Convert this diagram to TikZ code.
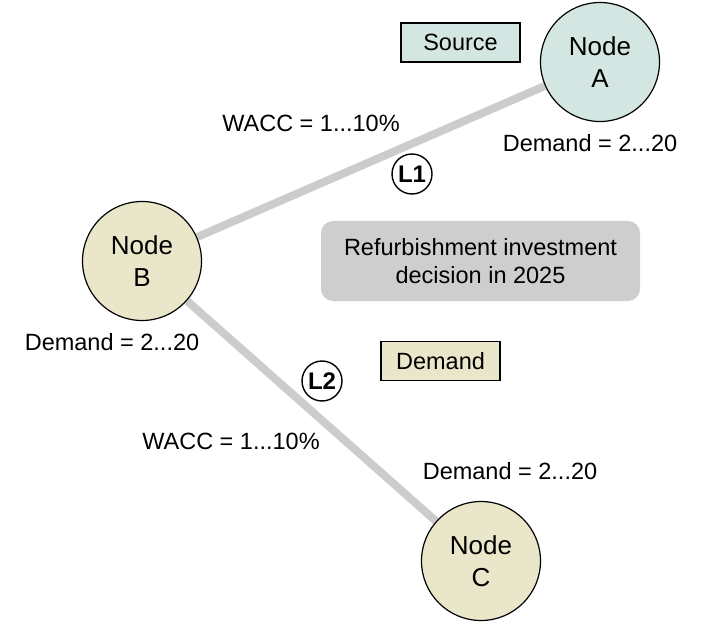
\documentclass[tikz,border=0pt]{standalone}
\usepackage{fontspec}
\setmainfont{Liberation Sans}
\usepackage{xcolor}
\usetikzlibrary{backgrounds}
\definecolor{srcfill}{RGB}{212,230,226}
\definecolor{dmdfill}{RGB}{234,230,201}
\definecolor{linkgray}{RGB}{204,204,204}
\definecolor{boxgray}{RGB}{206,206,206}
\tikzset{
    bus/.style={circle, draw, line width=1.2pt, minimum size=119pt, inner sep=0pt,
        align=center, font=\fontsize{26}{32}\selectfont},
    legendbox/.style={draw, line width=1.2pt, minimum width=119pt, minimum height=39pt,
        inner sep=0pt, font=\fontsize{23.5}{28}\selectfont},
    linktag/.style={circle, draw, line width=1.4pt, minimum size=40pt, inner sep=0pt,
        font=\bfseries\fontsize{24}{26}\selectfont},
    info/.style={font=\fontsize{23.5}{28}\selectfont},
    link/.style={line width=8pt, linkgray}
}

\begin{document}
\begin{tikzpicture}[x=1pt, y=-1pt]
    \useasboundingbox (0,0) rectangle (703,628);

    % Nodes
    \node[bus, fill=srcfill] (A) at (600, 62) {Node\\A};
    \node[bus, fill=dmdfill] (B) at (142, 261) {Node\\B};
    \node[bus, fill=dmdfill] (C) at (481, 561) {Node\\C};

    % Lines (behind the nodes)
    \begin{scope}[on background layer]
        \draw[link] (B) -- (A);
        \draw[link] (B) -- (C);
    \end{scope}

    % Line tags
    \node[linktag, fill=white] (L1) at (412, 174) {L1};
    \node[linktag, fill=white] (L2) at (322, 381) {L2};

    % Legend
    \node[legendbox, fill=srcfill] (src) at (460.5, 42.5) {Source};
    \node[legendbox, fill=dmdfill] (dmd) at (440.5, 361) {Demand};

    % Decision box
    \node[fill=boxgray, rounded corners=12pt, minimum width=319pt, minimum height=80pt,
        align=center, info] (dec) at (480.5, 261) {Refurbishment investment\\decision in 2025};

    % Parameters
    \node[info] (wacc1) at (311, 123) {WACC = 1...10\%};
    \node[info] (wacc2) at (231, 441) {WACC = 1...10\%};
    \node[info] (demA) at (590, 143) {Demand = 2...20};
    \node[info] (demB) at (112, 342) {Demand = 2...20};
    \node[info] (demC) at (510, 471) {Demand = 2...20};
\end{tikzpicture}
\end{document}
